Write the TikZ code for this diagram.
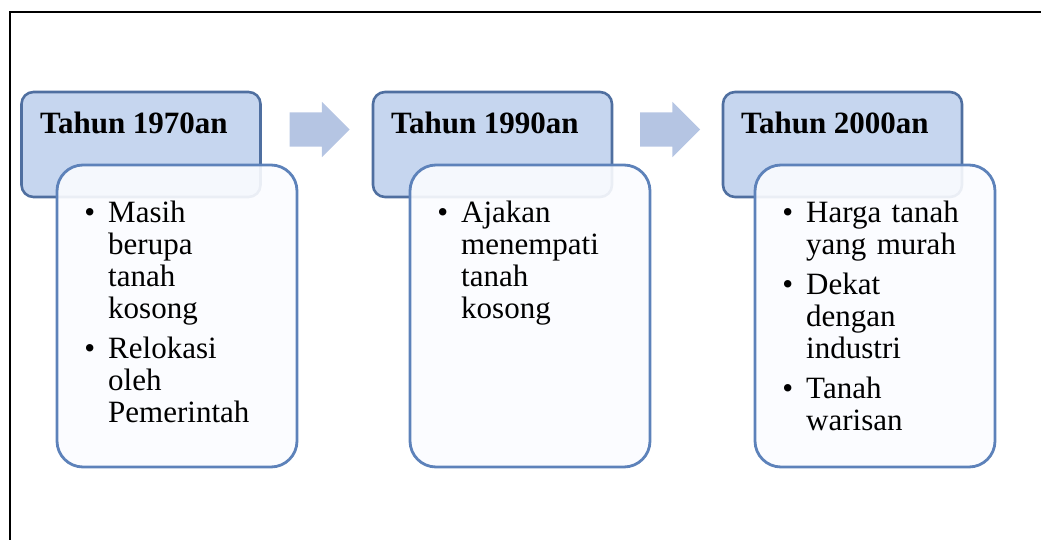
\documentclass[tikz,border=0pt]{standalone}
\usepackage{fontspec}
\setmainfont{Liberation Serif}
\usepackage{enumitem}
\usetikzlibrary{shapes.arrows}

\definecolor{headfill}{RGB}{198,214,239}
\definecolor{headline}{RGB}{79,111,160}
\definecolor{bodyline}{RGB}{93,130,186}
\definecolor{bodyfill}{RGB}{251,252,255}
\definecolor{arrowfill}{RGB}{181,197,227}

\begin{document}
\begin{tikzpicture}[x=1pt, y=-1pt,
    head/.style = {draw=headline, fill=headfill, line width=2.6pt, rounded corners=12pt,
        minimum width=239pt, minimum height=105pt, inner sep=0pt},
    body/.style = {draw=bodyline, fill=bodyfill, fill opacity=0.9, line width=2.8pt,
        rounded corners=26pt, minimum width=240pt, minimum height=302pt, inner sep=0pt},
    title/.style = {anchor=north west, inner sep=0pt, font=\fontsize{31}{32}\selectfont\bfseries},
    items/.style = {anchor=north west, inner sep=0pt, text width=178pt, align=left,
        font=\fontsize{31}{32}\selectfont},
    next/.style = {single arrow, fill=arrowfill, minimum height=60pt, inner xsep=0pt,
        inner ysep=17pt, single arrow head extend=10.5pt}]
    \useasboundingbox (0,0) rectangle (1041,540);

    % Frame
    \draw[line width=2.5pt] (1041,12) -- (10,12) -- (10,540);

    % Headers
    \node[head] (h1) at (141,144.5) {};
    \node[head] (h2) at (492.5,144.5) {};
    \node[head] (h3) at (842.5,144.5) {};

    % Bodies
    \node[body] (b1) at (177,316) {};
    \node[body] (b2) at (530,316) {};
    \node[body] (b3) at (875,316) {};

    % Titles
    \node[title] (t1) at (40,112) {Tahun 1970an};
    \node[title] (t2) at (391,112) {Tahun 1990an};
    \node[title] (t3) at (741,112) {Tahun 2000an};

    % Lists
    \node[items] (l1) at (87,190) {\raggedright
        \begin{itemize}[leftmargin=21pt, labelsep=13pt, itemsep=8pt, parsep=0pt, topsep=0pt, partopsep=0pt, label=\textbullet]
            \item Masih berupa tanah kosong
            \item Relokasi oleh Pemerintah
        \end{itemize}};
    \node[items] (l2) at (440,190) {\raggedright
        \begin{itemize}[leftmargin=21pt, labelsep=13pt, itemsep=8pt, parsep=0pt, topsep=0pt, partopsep=0pt, label=\textbullet]
            \item Ajakan menempati tanah kosong
        \end{itemize}};
    \node[items] (l3) at (785,190) {\raggedright
        \begin{itemize}[leftmargin=21pt, labelsep=13pt, itemsep=8pt, parsep=0pt, topsep=0pt, partopsep=0pt, label=\textbullet]
            \item Harga tanah yang murah
            \item Dekat dengan industri
            \item Tanah warisan
        \end{itemize}};

    % Arrows
    \node[next] (a1) at (311,129.5) {};
    \node[next] (a2) at (661.5,129.5) {};

\end{tikzpicture}
\end{document}
